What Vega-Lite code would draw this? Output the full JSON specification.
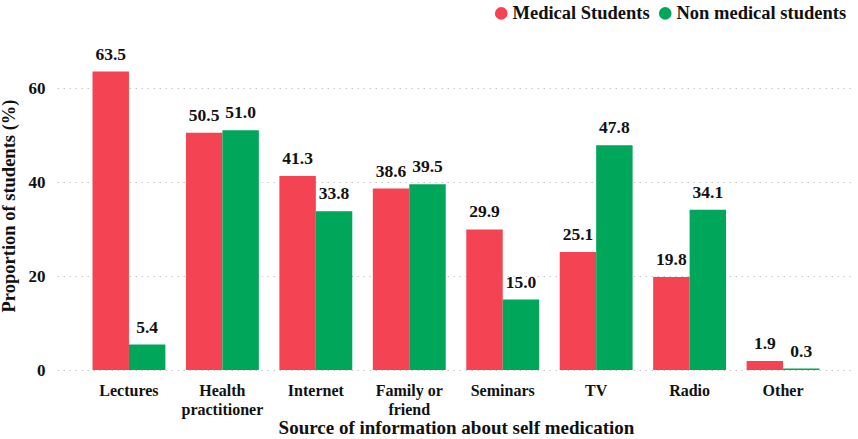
{
  "$schema": "https://vega.github.io/schema/vega-lite/v6.json",
  "width": 798,
  "height": 329,
  "autosize": {"type": "none"},
  "padding": {"left": 57, "top": 41, "right": 3, "bottom": 69},
  "config": {
    "font": "Liberation Serif",
    "view": {"stroke": null},
    "axis": {"labelFont": "Liberation Serif", "titleFont": "Liberation Serif", "labelColor": "#111", "titleColor": "#111"},
    "legend": {"labelFont": "Liberation Serif"},
    "text": {"font": "Liberation Serif"}
  },
  "data": {
    "values": [
      {"source": "Lectures", "group": "Medical Students", "value": 63.5},
      {"source": "Lectures", "group": "Non medical students", "value": 5.4},
      {"source": "Health practitioner", "group": "Medical Students", "value": 50.5},
      {"source": "Health practitioner", "group": "Non medical students", "value": 51.0},
      {"source": "Internet", "group": "Medical Students", "value": 41.3},
      {"source": "Internet", "group": "Non medical students", "value": 33.8},
      {"source": "Family or friend", "group": "Medical Students", "value": 38.6},
      {"source": "Family or friend", "group": "Non medical students", "value": 39.5},
      {"source": "Seminars", "group": "Medical Students", "value": 29.9},
      {"source": "Seminars", "group": "Non medical students", "value": 15.0},
      {"source": "TV", "group": "Medical Students", "value": 25.1},
      {"source": "TV", "group": "Non medical students", "value": 47.8},
      {"source": "Radio", "group": "Medical Students", "value": 19.8},
      {"source": "Radio", "group": "Non medical students", "value": 34.1},
      {"source": "Other", "group": "Medical Students", "value": 1.9},
      {"source": "Other", "group": "Non medical students", "value": 0.3}
    ]
  },
  "encoding": {
    "x": {
      "field": "source", "type": "nominal", "sort": null,
      "scale": {"paddingInner": 0.22, "paddingOuter": 0.38},
      "axis": {
        "title": "Source of information about self medication",
        "titleFontSize": 19, "titleFontWeight": "bold", "titlePadding": 1,
        "labelFontSize": 16, "labelFontWeight": "bold", "labelAngle": 0,
        "labelPadding": 12, "labelLineHeight": 19,
        "ticks": false, "domain": false,
        "labelExpr": "datum.value == 'Health practitioner' ? ['Health','practitioner'] : datum.value == 'Family or friend' ? ['Family or','friend'] : datum.value"
      }
    },
    "xOffset": {"field": "group", "type": "nominal"},
    "y": {
      "field": "value", "type": "quantitative",
      "scale": {"domain": [0, 70]},
      "axis": {
        "title": "Proportion of students (%)",
        "titleFontSize": 18.5, "titleFontWeight": "bold", "titlePadding": 10,
        "labelFontSize": 17, "labelFontWeight": "bold", "labelPadding": 12,
        "values": [0, 20, 40, 60],
        "ticks": false, "domain": false,
        "grid": true, "gridColor": "#c8c8c8", "gridDash": [1.5, 4.5], "gridWidth": 1.2
      }
    },
    "color": {
      "field": "group", "type": "nominal",
      "scale": {"domain": ["Medical Students", "Non medical students"], "range": ["#F44353", "#00A659"]},
      "legend": {
        "title": null, "orient": "none", "direction": "horizontal",
        "legendX": 435, "legendY": -37,
        "symbolType": "circle", "symbolSize": 160, "symbolOpacity": 1,
        "labelFontSize": 18.5, "labelFontWeight": "bold", "labelColor": "#111",
        "labelLimit": 300, "labelOffset": 2, "columnPadding": 6
      }
    }
  },
  "layer": [
    {"mark": {"type": "bar", "opacity": 1}},
    {
      "mark": {"type": "text", "baseline": "bottom", "dy": -8, "fontSize": 17.5, "fontWeight": "bold"},
      "encoding": {
        "text": {"field": "value", "type": "quantitative", "format": ".1f"},
        "color": {"value": "#111"}
      }
    }
  ]
}
